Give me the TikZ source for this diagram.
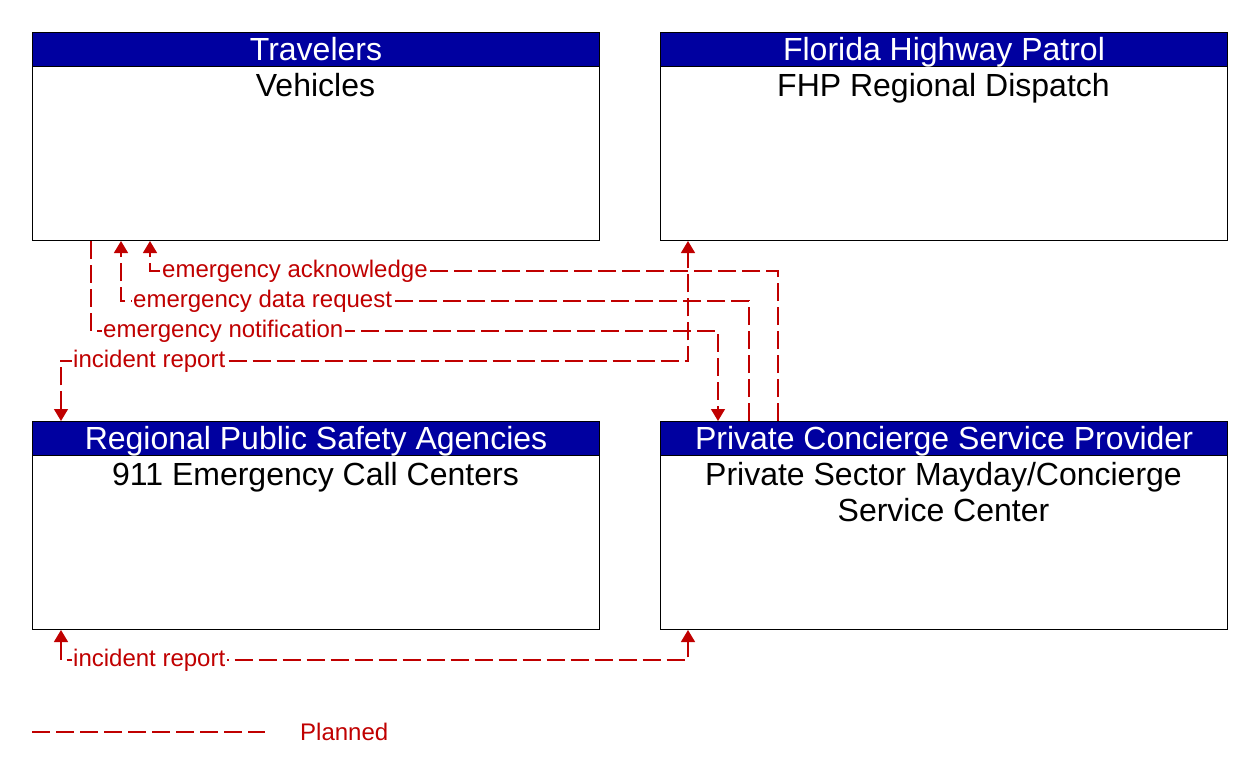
\documentclass[tikz,border=0pt]{standalone}
\usepackage{fontspec}
\setmainfont{Liberation Sans}
\usetikzlibrary{arrows.meta}
\definecolor{hdr}{RGB}{0,0,160}
\definecolor{flowred}{RGB}{192,0,0}
\begin{document}
\begin{tikzpicture}[x=1pt,y=-1pt,
 box/.style={draw=black,line width=1pt,fill=white,anchor=north west,minimum width=567pt,minimum height=208pt,inner sep=0pt},
 head/.style={draw=black,line width=1pt,fill=hdr,text=white,anchor=north west,minimum width=567pt,minimum height=34pt,inner sep=0pt,text height=22pt,text depth=0pt,font=\fontsize{32}{36}\selectfont},
 bodytext/.style={anchor=north,inner sep=0pt,align=center,font=\fontsize{32}{36}\selectfont},
 flow/.style={draw=flowred,line width=1.4pt,dash pattern=on 18pt off 6pt},
 tip/.style={-{Triangle[width=14pt,length=12pt]}},
 tips/.style={{Triangle[width=14pt,length=12pt]}-{Triangle[width=14pt,length=12pt]}},
 lbl/.style={anchor=base west,fill=white,inner sep=1.5pt,text=flowred,font=\fontsize{24}{28}\selectfont}]
\fill[white] (0,0) rectangle (1252,778);
\useasboundingbox (0,0) rectangle (1252,778);

% boxes
\node[box] (veh) at (32,32) {};
\node[head] (vehH) at (32,32) {Travelers};
\node[bodytext] (vehT) at (315.5,73) {Vehicles};

\node[box] (fhp) at (660,32) {};
\node[head] (fhpH) at (660,32) {Florida Highway Patrol};
\node[bodytext] (fhpT) at (943.5,73) {FHP Regional Dispatch};

\node[box] (rps) at (32,421) {};
\node[head] (rpsH) at (32,421) {Regional Public Safety Agencies};
\node[bodytext] (rpsT) at (315.5,462) {911 Emergency Call Centers};

\node[box] (pcs) at (660,421) {};
\node[head] (pcsH) at (660,421) {Private Concierge Service Provider};
\node[bodytext] (pcsT) at (943.5,462) {Private Sector Mayday/Concierge\\Service Center};

% flows
\draw[flow,tip] ([xshift=118pt]pcs.north west) |- ([xshift=118pt,yshift=-30pt]veh.south west) -- ([xshift=118pt]veh.south west);
\draw[flow,tip] ([xshift=89pt]pcs.north west) |- ([xshift=89pt,yshift=-60pt]veh.south west) -- ([xshift=89pt]veh.south west);
\draw[flow,tip] ([xshift=59pt]veh.south west) |- ([xshift=58pt,yshift=-90pt]fhp.south west) -- ([xshift=58pt]pcs.north west);
\draw[flow,tips] ([xshift=29pt]rps.north west) |- ([xshift=28pt,yshift=-120pt]fhp.south west) -- ([xshift=28pt]fhp.south west);
\draw[flow,tips] ([xshift=29pt]rps.south west) |- ([xshift=28pt,yshift=-30pt]pcs.south west) -- ([xshift=28pt]pcs.south west);

% labels
\node[lbl] (l1) at (160.5,277.5) {emergency acknowledge};
\node[lbl] (l2) at (131.5,307.5) {emergency data request};
\node[lbl] (l3) at (101.5,337.5) {emergency notification};
\node[lbl] (l4) at (71.5,367.5) {incident report};
\node[lbl] (l5) at (71.5,666.5) {incident report};

% legend
\coordinate (lg1) at (32,732);
\coordinate (lg2) at (265,732);
\draw[flow] (lg1) -- (lg2);
\node[anchor=base west,inner sep=0pt,text=flowred,font=\fontsize{24}{28}\selectfont] (lgt) at (300,740) {Planned};
\end{tikzpicture}
\end{document}
